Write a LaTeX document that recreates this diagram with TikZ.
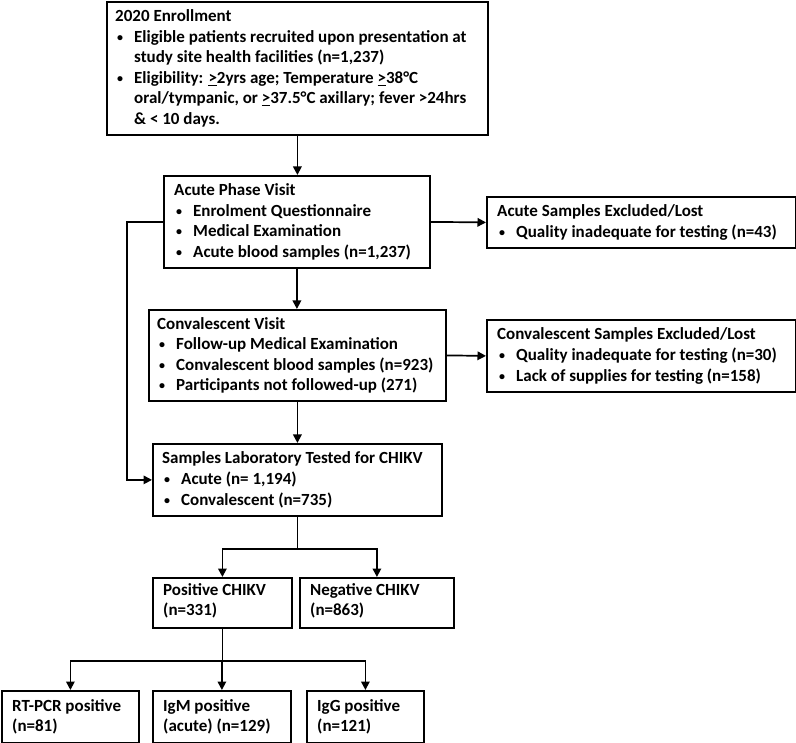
\documentclass[tikz,border=0pt]{standalone}
\usepackage{fontspec}
\setmainfont{Carlito}
\usetikzlibrary{arrows.meta}
\newcommand{\bl}{\makebox[19pt][l]{\hspace{2pt}\raisebox{1pt}{\fontsize{12}{12}\selectfont •}}}
\newcommand{\cl}{\hspace*{19pt}}
\begin{document}
\begin{tikzpicture}[x=1pt,y=-1pt,
  boxs/.style={draw, line width=1.8pt, anchor=north west, inner sep=0pt},
  txt/.style={anchor=west, align=left, inner sep=0pt, font=\fontsize{17}{20.6}\selectfont\bfseries},
  conn/.style={line width=1.7pt},
  arr/.style={line width=1.7pt, -{Triangle[length=8.5pt,width=8.5pt]}}]
\useasboundingbox (0,0) rectangle (796,743);
% boxes
\node[boxs, minimum width=381pt, minimum height=133pt] (b1) at (106,1) {};
\node[boxs, minimum width=266pt, minimum height=92pt] (b2) at (163,175) {};
\node[boxs, minimum width=309pt, minimum height=51pt] (ae) at (486,196) {};
\node[boxs, minimum width=297pt, minimum height=91pt] (b3) at (148,309) {};
\node[boxs, minimum width=309pt, minimum height=72pt] (ce) at (486,319) {};
\node[boxs, minimum width=289pt, minimum height=72pt] (b4) at (152,443) {};
\node[boxs, minimum width=139pt, minimum height=50pt] (pos) at (152,577) {};
\node[boxs, minimum width=154pt, minimum height=50pt] (neg) at (299,577) {};
\node[boxs, minimum width=137pt, minimum height=52pt] (rt) at (1,690) {};
\node[boxs, minimum width=138pt, minimum height=52pt] (igm) at (152,690) {};
\node[boxs, minimum width=117pt, minimum height=52pt] (igg) at (306,690) {};
% texts
\node[txt] (t1) at ([xshift=9pt]b1.west) {2020 Enrollment\\
\bl Eligible patients recruited upon presentation at\\
\cl study site health facilities (n=1,237)\\
\bl Eligibility: \underline{>}2yrs age; Temperature \underline{>}38°C\\
\cl oral/tympanic, or \underline{>}37.5°C axillary; fever >24hrs\\
\cl \& < 10 days.};
\node[txt] (t2) at ([xshift=11pt]b2.west) {Acute Phase Visit\\
\bl Enrolment Questionnaire\\
\bl Medical Examination\\
\bl Acute blood samples (n=1,237)};
\node[txt] (tae) at ([xshift=11pt]ae.west) {Acute Samples Excluded/Lost\\
\bl Quality inadequate for testing (n=43)};
\node[txt] (t3) at ([xshift=9pt]b3.west) {Convalescent Visit\\
\bl Follow-up Medical Examination\\
\bl Convalescent blood samples (n=923)\\
\bl Participants not followed-up (271)};
\node[txt] (tce) at ([xshift=11pt]ce.west) {Convalescent Samples Excluded/Lost\\
\bl Quality inadequate for testing (n=30)\\
\bl Lack of supplies for testing (n=158)};
\node[txt] (t4) at ([xshift=10pt]b4.west) {Samples Laboratory Tested for CHIKV\\
\bl Acute (n= 1,194)\\
\bl Convalescent (n=735)};
\node[txt] (tpos) at ([xshift=11pt,yshift=2pt]pos.west) {Positive CHIKV\\(n=331)};
\node[txt] (tneg) at ([xshift=11pt,yshift=2pt]neg.west) {Negative CHIKV\\(n=863)};
\node[txt] (trt) at ([xshift=11pt]rt.west) {RT-PCR positive\\(n=81)};
\node[txt] (tigm) at ([xshift=11pt]igm.west) {IgM positive\\(acute) (n=129)};
\node[txt] (tigg) at ([xshift=11pt]igg.west) {IgG positive\\(n=121)};
% connectors
\draw[arr] (b1.south) -- (b1.south |- b2.north);
\draw[arr] (b2.south) -- (b2.south |- b3.north);
\draw[arr] (b3.south) -- (b3.south |- b4.north);
\draw[arr] (b2.east) -- (ae.west);
\draw[arr] (b3.east) -- (ce.west);
\draw[arr] (b2.west) -- ++(-36,0) |- (b4.west);
\draw[conn] (b4.south) -- ++(0,32) coordinate (j1);
\draw[arr] (j1) -| (pos.north);
\draw[arr] (j1) -| (neg.north);
\draw[conn] (pos.south) -- ++(0,32) coordinate (j2);
\draw[arr] (j2) -| (rt.north);
\draw[arr] (j2) -| (igm.north);
\draw[arr] (j2) -| (igg.north);
\end{tikzpicture}
\end{document}
